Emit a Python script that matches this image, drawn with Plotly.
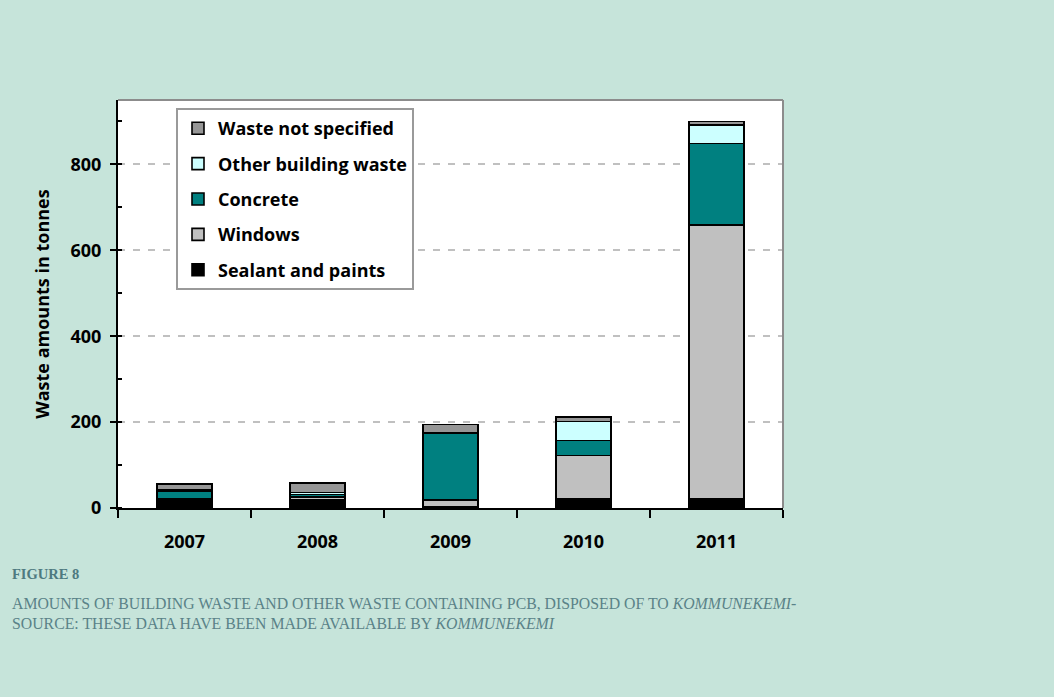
import plotly.graph_objects as go

years = ["2007", "2008", "2009", "2010", "2011"]
sealant = [20, 18, 3, 21, 22]
windows = [2, 8, 16, 101, 637]
concrete = [18, 5, 155, 35, 190]
other_building = [2, 5, 2, 44, 43]
not_specified = [14, 22, 18, 11, 8]

series = [
    ("Sealant and paints", sealant, "#000000"),
    ("Windows", windows, "#c0c0c0"),
    ("Concrete", concrete, "#008080"),
    ("Other building waste", other_building, "#ccffff"),
    ("Waste not specified", not_specified, "#969696"),
]

W, H = 1054, 697
L, R, T, B = 118, 271, 100, 189
pw = W - L - R
ph = H - T - B

fig = go.Figure()
n = len(series)
for i, (name, vals, col) in enumerate(series):
    fig.add_trace(go.Bar(
        x=years, y=vals, name=name, legendgroup=name, legendrank=n - i,
        marker=dict(color=col, line=dict(color="#000000", width=1.6)),
    ))

bold = "Open Sans"
fig.update_layout(
    width=W, height=H,
    margin=dict(l=L, r=R, t=T, b=B, autoexpand=False),
    barmode="stack", bargap=0.59,
    paper_bgcolor="#c6e4da", plot_bgcolor="#ffffff",
    font=dict(family=bold, color="#000000"),
    showlegend=True,
    legend=dict(
        traceorder="grouped",
        x=(176 - L) / pw, y=1 - (108 - T) / ph, xanchor="left", yanchor="top",
        bgcolor="#ffffff", bordercolor="#9a9a9a", borderwidth=2,
        font=dict(family=bold, size=18, color="#000000", weight="bold"),
        itemwidth=30, tracegroupgap=9,
    ),
    xaxis=dict(
        type="category", tickson="boundaries",
        showline=True, linecolor="#000000", linewidth=2,
        ticks="outside", ticklen=8, tickwidth=2, tickcolor="#000000",
        ticklabelstandoff=16,
        tickfont=dict(size=18, weight="bold", family=bold),
        showgrid=False, zeroline=False,
    ),
    yaxis=dict(
        range=[0, 950], tickvals=[0, 200, 400, 600, 800],
        showline=True, linecolor="#000000", linewidth=2,
        ticks="outside", ticklen=6, tickwidth=2, tickcolor="#000000",
        ticklabelstandoff=5,
        tickfont=dict(size=18, weight="bold", family=bold),
        showgrid=True, gridcolor="#c0c0c0", gridwidth=2, griddash="7px,8px",
        zeroline=False,
        minor=dict(dtick=100, tick0=0, ticks="inside", ticklen=4, tickwidth=2,
                   tickcolor="#000000", showgrid=False),
        title=dict(text="Waste amounts in tonnes", standoff=16,
                   font=dict(size=18, weight="bold", family=bold)),
    ),
)

# top and right frame of the plot area
fig.add_shape(type="line", xref="paper", yref="paper", x0=0, x1=1, y0=1, y1=1,
              line=dict(color="#8c8c8c", width=2))
fig.add_shape(type="line", xref="paper", yref="paper", x0=1, x1=1, y0=0, y1=1,
              line=dict(color="#8c8c8c", width=2))

serif = "Liberation Serif"
fig.add_annotation(text="<b>FIGURE 8</b>", xref="paper", yref="paper",
                   x=(10 - L) / pw, y=1 - (574 - T) / ph, xanchor="left", yanchor="middle",
                   showarrow=False, font=dict(family=serif, size=14.5, color="#4e7a80"))
fig.add_annotation(text="AMOUNTS OF BUILDING WASTE AND OTHER WASTE CONTAINING PCB, DISPOSED OF TO <i>KOMMUNEKEMI</i>-",
                   xref="paper", yref="paper",
                   x=(10 - L) / pw, y=1 - (603 - T) / ph, xanchor="left", yanchor="middle",
                   showarrow=False, font=dict(family=serif, size=15.8, color="#5a8288"))
fig.add_annotation(text="SOURCE: THESE DATA HAVE BEEN MADE AVAILABLE BY <i>KOMMUNEKEMI</i>",
                   xref="paper", yref="paper",
                   x=(10 - L) / pw, y=1 - (623 - T) / ph, xanchor="left", yanchor="middle",
                   showarrow=False, font=dict(family=serif, size=15.8, color="#5a8288"))

fig.write_html("out.html", config={"displayModeBar": False},
               post_script="document.body.style.margin='0';document.body.style.background='#c6e4da';")
